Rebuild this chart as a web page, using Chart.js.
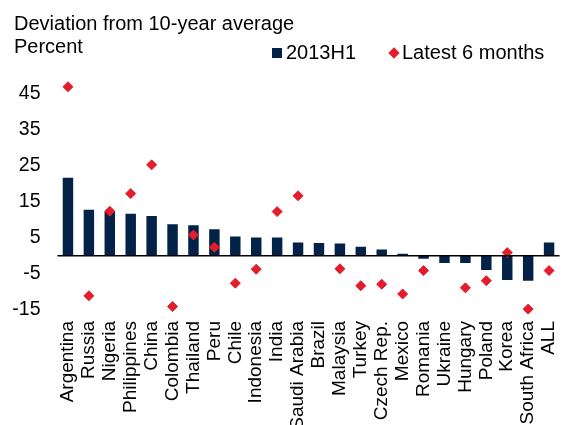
<!DOCTYPE html>
<html>
<head>
<meta charset="utf-8">
<script src="https://cdn.jsdelivr.net/npm/chart.js@4"></script>
<style>
  html, body { margin: 0; padding: 0; background: #fff; overflow: hidden; }
  body { width: 576px; height: 425px; position: relative; font-family: "Liberation Sans", Arial, sans-serif; color: #000; }
  #chartBox { position: absolute; left: 0; top: 0; }
  .txt { position: absolute; font-size: 20px; line-height: 20px; white-space: nowrap; }
  .sq { position: absolute; width: 10px; height: 10px; background: #022248; }
  .dia { position: absolute; width: 8px; height: 8px; background: #e31d2b; transform: rotate(45deg); }
</style>
</head>
<body>
<canvas id="chartBox" width="576" height="445"></canvas>
<div class="txt" style="left:14px; top:13px;">Deviation from 10-year average</div>
<div class="txt" style="left:14px; top:36px;">Percent</div>
<div class="sq" style="left:272px; top:48px;"></div>
<div class="txt" style="left:286px; top:42px;">2013H1</div>
<div class="dia" style="left:389.5px; top:48.5px;"></div>
<div class="txt" style="left:402px; top:42px;">Latest 6 months</div>
<script>
// dados
const countries = ["Argentina", "Russia", "Nigeria", "Philippines", "China", "Colombia", "Thailand", "Peru",
  "Chile", "Indonesia", "India", "Saudi Arabia", "Brazil", "Malaysia", "Turkey", "Czech Rep.", "Mexico",
  "Romania", "Ukraine", "Hungary", "Poland", "Korea", "South Africa", "ALL"];
const h1Values = [21.7, 12.8, 12.3, 11.7, 11.1, 8.8, 8.5, 7.4, 5.4, 5.1, 5.1, 3.7, 3.6, 3.4, 2.5, 1.8, 0.6,
  -0.8, -2.0, -2.0, -3.9, -6.7, -6.9, 3.7];
const latestValues = [47.0, -11.1, 12.4, 17.3, 25.3, -14.1, 5.8, 2.4, -7.6, -3.7, 12.3, 16.7, null, -3.6,
  -8.3, -7.9, -10.6, -4.1, null, -8.9, -6.9, 0.9, -14.8, -4.1];
const yTicks = [45, 35, 25, 15, 5, -5, -15];

const navy = "#022248";
const red = "#e31d2b";

// linha do zero
const zeroLine = {
  id: "zeroLine",
  afterDatasetsDraw(chart) {
    const y = chart.scales.y.getPixelForValue(0);
    const ctx = chart.ctx;
    ctx.save();
    ctx.strokeStyle = "#000";
    ctx.lineWidth = 1.5;
    ctx.beginPath();
    ctx.moveTo(chart.chartArea.left, y);
    ctx.lineTo(chart.chartArea.right, y);
    ctx.stroke();
    ctx.restore();
  }
};

function createChart() {
  const ctx = document.getElementById("chartBox").getContext("2d");
  window.fxChart = new Chart(ctx, {
    data: {
      labels: countries,
      datasets: [
        {
          type: "line",
          label: "Latest 6 months",
          data: latestValues,
          showLine: false,
          pointStyle: "rectRot",
          pointRadius: 5,
          pointBorderWidth: 1,
          backgroundColor: red,
          borderColor: red,
          clip: false,
          order: 0
        },
        {
          type: "bar",
          label: "2013H1",
          data: h1Values,
          backgroundColor: navy,
          borderWidth: 0,
          barPercentage: 0.5,
          categoryPercentage: 1,
          order: 1
        }
      ]
    },
    options: {
      responsive: false,
      animation: false,
      layout: { padding: { top: 76, right: 1, left: 0, bottom: 0 } },
      plugins: {
        legend: { display: false },
        tooltip: { enabled: false }
      },
      scales: {
        x: {
          grid: { display: false, drawTicks: false },
          border: { display: false },
          ticks: {
            autoSkip: false,
            minRotation: 90,
            maxRotation: 90,
            padding: 4,
            color: "#000",
            font: { family: "Liberation Sans", size: 19 }
          },
          afterFit(scale) { scale.height = 128; }
        },
        y: {
          min: -17,
          max: 50,
          grid: { display: false, drawTicks: false },
          border: { display: false },
          ticks: {
            padding: 17,
            color: "#000",
            font: { family: "Liberation Sans", size: 19.5 }
          },
          afterBuildTicks(scale) { scale.ticks = yTicks.map(v => ({ value: v })); },
          afterFit(scale) { scale.width = 57.5; }
        }
      }
    },
    plugins: [zeroLine]
  });
}

window.addEventListener("DOMContentLoaded", createChart);
</script>
</body>
</html>
